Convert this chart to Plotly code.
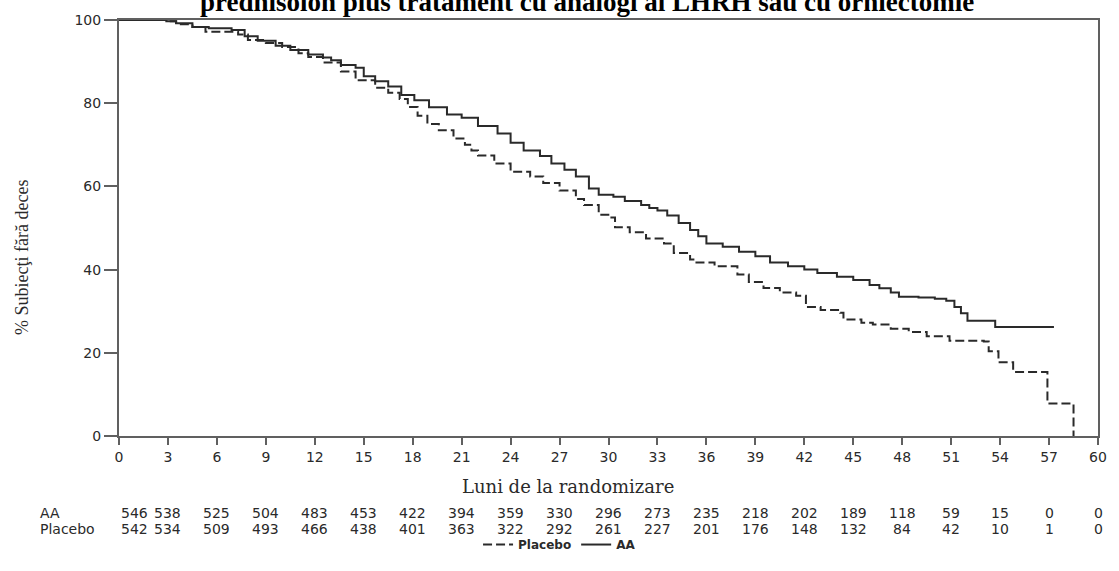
import plotly.graph_objects as go

# Kaplan-Meier curves (months, % alive)
aa_months = [0, 1.5, 2.9, 3.5, 4.5, 5.5, 6.9, 7.7, 8.5, 9.6, 10.5, 11.6, 12.5, 13.0, 13.6, 14.5, 15.0,
             15.7, 16.5, 17.3, 18.1, 19.0, 20.1, 21.0, 22.0, 23.2, 24.0, 24.8, 25.8, 26.5, 27.3, 28.0,
             28.8, 29.4, 30.3, 31.0, 32.0, 32.5, 33.0, 33.6, 34.3, 35.0, 35.5, 36.0, 37.0, 38.0, 39.0,
             39.9, 41.0, 42.0, 42.8, 44.0, 45.0, 46.0, 46.6, 47.3, 47.8, 49.0, 50.0, 50.7, 51.2, 51.6,
             52.0, 53.7, 57.3]
aa_surv = [100, 100, 99.7, 99.2, 98.3, 98.0, 97.6, 96.1, 95.0, 93.8, 92.8, 91.7, 91.0, 90.3, 89.2, 88.5,
           86.5, 85.3, 84.0, 82.0, 80.7, 79.0, 77.3, 76.5, 74.5, 72.7, 70.5, 68.6, 67.3, 65.5, 64.0, 62.4,
           59.5, 58.0, 57.5, 56.5, 55.5, 54.8, 54.2, 53.0, 51.2, 49.5, 48.0, 46.3, 45.5, 44.3, 43.2, 41.7,
           40.8, 40.0, 39.2, 38.3, 37.5, 36.3, 35.5, 34.5, 33.5, 33.3, 33.0, 32.5, 31.0, 29.5, 27.7, 26.2,
           26.2]

pl_months = [0, 2.9, 3.5, 4.5, 5.3, 7.3, 7.9, 9.0, 10.0, 11.0, 11.6, 12.5, 13.6, 14.5, 15.7, 16.5, 17.2,
             17.7, 18.3, 18.9, 19.6, 20.5, 21.2, 21.6, 22.0, 23.0, 24.0, 25.2, 26.0, 27.0, 28.0, 28.5,
             29.4, 30.1, 30.4, 31.3, 32.3, 33.4, 34.0, 35.0, 35.3, 36.5, 37.9, 38.6, 39.5, 40.5, 41.5,
             42.1, 43.0, 44.2, 44.4, 45.5, 46.2, 47.3, 48.4, 49.5, 50.9, 53.0, 53.3, 53.9, 54.8, 56.9, 58.5]
pl_surv = [100, 99.7, 99.0, 98.3, 97.2, 96.5, 95.2, 94.5, 93.5, 92.0, 91.1, 89.8, 87.6, 85.5, 83.7, 82.5,
           81.0, 79.1, 77.0, 75.0, 73.5, 71.5, 70.0, 68.6, 67.4, 65.5, 63.5, 62.4, 60.8, 59.0, 57.0, 55.5,
           53.2, 52.5, 50.2, 49.0, 47.5, 46.3, 44.0, 42.4, 41.7, 40.8, 38.8, 37.0, 35.6, 34.5, 33.7, 31.0,
           30.3, 29.6, 28.0, 27.2, 26.8, 25.8, 25.0, 24.0, 22.9, 22.7, 20.4, 17.7, 15.4, 7.8, 0]

# Number at risk table
risk_months = [0, 3, 6, 9, 12, 15, 18, 21, 24, 27, 30, 33, 36, 39, 42, 45, 48, 51, 54, 57, 60]
risk_aa = [546, 538, 525, 504, 483, 453, 422, 394, 359, 330, 296, 273, 235, 218, 202, 189, 118, 59, 15, 0, 0]
risk_pl = [542, 534, 509, 493, 466, 438, 401, 363, 322, 292, 261, 227, 201, 176, 148, 132, 84, 42, 10, 1, 0]

x_ticks = list(range(0, 61, 3))
y_ticks = [0, 20, 40, 60, 80, 100]

title_text = "prednisolon plus tratament cu analogi ai LHRH sau cu orhiectomie"
x_title = "Luni de la randomizare"
y_title = "% Subiecţi fără deces"

AXIS = "#606060"
INK = "#2a2a2a"
SANS = "DejaVu Sans"
SERIF = "Liberation Serif"
WSERIF = "DejaVu Serif"

fig = go.Figure()
fig.add_trace(go.Scatter(x=pl_months, y=pl_surv, mode="lines", name="Placebo",
                         line=dict(color=INK, width=2, dash="9px,4px", shape="hv")))
fig.add_trace(go.Scatter(x=aa_months, y=aa_surv, mode="lines", name="AA",
                         line=dict(color=INK, width=2, shape="hv")))

fig.update_layout(
    width=1119, height=571,
    margin=dict(l=119, r=15, t=16, b=118),
    paper_bgcolor="white", plot_bgcolor="white",
    showlegend=True,
    legend=dict(orientation="h", x=0.45, xanchor="center", y=-0.2609, yanchor="middle",
                font=dict(family=SANS, size=12, color=INK, weight="bold"), itemwidth=30,
                bgcolor="rgba(0,0,0,0)"),
    xaxis=dict(range=[0, 60], tickvals=x_ticks, ticks="outside", ticklen=7, tickwidth=2,
               tickcolor=AXIS, showline=True, linecolor=AXIS, linewidth=2, mirror=True,
               showgrid=False, zeroline=False,
               tickfont=dict(family=SANS, size=14, color=INK)),
    yaxis=dict(range=[0, 100], tickvals=y_ticks, ticks="outside", ticklen=13, tickwidth=2,
               tickcolor=AXIS, showline=True, linecolor=AXIS, linewidth=2, mirror=True,
               showgrid=False, zeroline=False,
               tickfont=dict(family=SANS, size=14, color=INK)),
)

ann = []
# title, clipped by the top edge of the page as in the reference
ann.append(dict(text="<b>" + title_text + "</b>", xref="paper", yref="paper", x=0.478, y=1,
                xanchor="center", yanchor="bottom", yshift=1, showarrow=False,
                font=dict(family=SERIF, size=27, color="black")))
# axis titles
ann.append(dict(text=x_title, xref="paper", yref="paper", x=0.459, y=0, yshift=-50,
                xanchor="center", yanchor="middle", showarrow=False,
                font=dict(family=WSERIF, size=18, color=INK)))
ann.append(dict(text=y_title, xref="paper", yref="paper", x=0, xshift=-97, y=0.428,
                xanchor="center", yanchor="middle", textangle=-90, showarrow=False,
                font=dict(family=SERIF, size=18, color=INK)))
# risk table
rows = ((("AA", risk_aa), -77), (("Placebo", risk_pl), -93))
for (lbl, vals), ys in rows:
    ann.append(dict(text=lbl, xref="paper", yref="paper", x=0, xshift=-80, y=0, yshift=ys,
                    xanchor="left", yanchor="middle", showarrow=False, borderpad=0,
                    font=dict(family=SANS, size=14, color=INK)))
    for i, (m, v) in enumerate(zip(risk_months, vals)):
        ann.append(dict(text=str(v), xref="x", yref="paper", x=m, y=0, yshift=ys,
                        xanchor="left" if i == 0 else "center", xshift=1 if i == 0 else 0,
                        yanchor="middle", showarrow=False, borderpad=0,
                        font=dict(family=SANS, size=14, color=INK)))
fig.update_layout(annotations=ann)

fig.write_html("out.html", config={"displayModeBar": False},
               post_script="document.body.style.margin='0';")
